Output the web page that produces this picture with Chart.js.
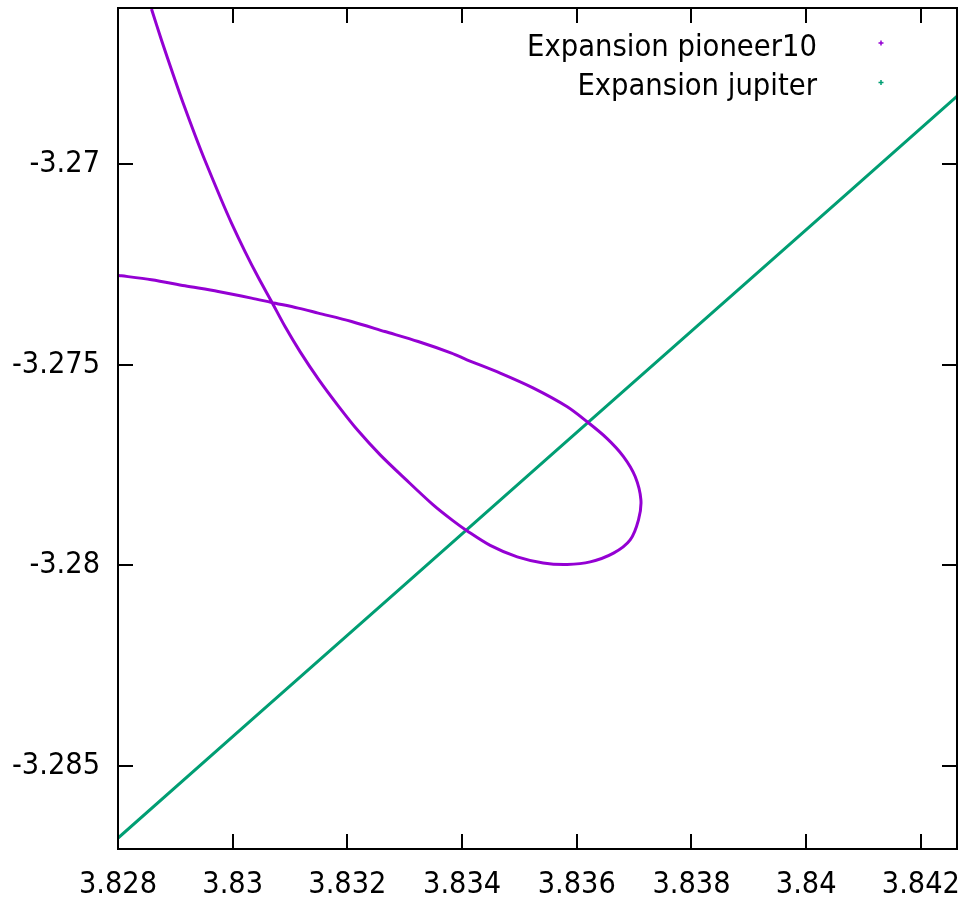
<!DOCTYPE html>
<html><head><meta charset="utf-8">
<script src="https://cdn.jsdelivr.net/npm/chart.js@4.4.1/dist/chart.umd.min.js"></script>
<style>html,body{margin:0;padding:0;background:#fff;} #wrap{width:971px;height:908px;}</style>
</head><body><div id="wrap"><canvas id="c" width="971" height="908"></canvas></div>
<script>
// ---- data ----
const seriesNames = ['Expansion pioneer10', 'Expansion jupiter'];
const seriesColors = ['#9400d3', '#009e73'];

const pioneerX = [3.828584, 3.828759, 3.828963, 3.829137, 3.829341, 3.829515, 3.829805, 3.829979,
  3.830213, 3.830445, 3.830677, 3.830915, 3.831177, 3.831491, 3.831840, 3.832188, 3.832572, 3.833008,
  3.833496, 3.833845, 3.834089, 3.834490, 3.834961, 3.835414, 3.835833, 3.836234, 3.836640, 3.836931,
  3.837076, 3.837118, 3.837018, 3.836814, 3.836525, 3.836176, 3.835827, 3.835245, 3.834664, 3.834084,
  3.833815, 3.833234, 3.832654, 3.832072, 3.831491, 3.831142, 3.830677, 3.830328, 3.829747, 3.829167,
  3.828584, 3.828061, 3.827986];
const pioneerY = [-3.266135, -3.266913, -3.267773, -3.268484, -3.269269, -3.269905, -3.270903, -3.271471,
  -3.272175, -3.272823, -3.273426, -3.274057, -3.274681, -3.275354, -3.276027, -3.276651, -3.277249, -3.277848,
  -3.278496, -3.278895, -3.279145, -3.279506, -3.279793, -3.279943, -3.279980, -3.279918, -3.279700, -3.279369,
  -3.278870, -3.278372, -3.277790, -3.277292, -3.276838, -3.276419, -3.276045, -3.275586, -3.275212, -3.274880,
  -3.274713, -3.274424, -3.274175, -3.273925, -3.273716, -3.273591, -3.273451, -3.273342, -3.273177, -3.273035,
  -3.272885, -3.272786, -3.272776];

const jupiterX = [3.828000, 3.830305, 3.832921, 3.835536, 3.838152, 3.840767, 3.842628];
const jupiterY = [-3.286803, -3.283890, -3.280584, -3.277277, -3.273970, -3.270666, -3.268314];

const xTicks = [3.828, 3.830, 3.832, 3.834, 3.836, 3.838, 3.840, 3.842];
const xTickLabels = ['3.828', '3.83', '3.832', '3.834', '3.836', '3.838', '3.84', '3.842'];
const yTicks = [-3.285, -3.280, -3.275, -3.270];
const yTickLabels = ['-3.285', '-3.28', '-3.275', '-3.27'];
const xRange = [3.828, 3.84263];
const yRange = [-3.287075, -3.26611];

// ---- font selection ----
const mctx = document.createElement('canvas').getContext('2d');
function hasFont(name) {
  mctx.font = "40px '" + name + "', monospace";
  const a = mctx.measureText('Expansion pioneer10').width;
  mctx.font = '40px monospace';
  const b = mctx.measureText('Expansion pioneer10').width;
  return Math.abs(a - b) > 0.5;
}
const FAMILY = hasFont('DejaVu Sans Condensed') ? "'DejaVu Sans Condensed'" : "'DejaVu Sans'";
function sizeFor(text, target) {
  mctx.font = '40px ' + FAMILY;
  return 40 * target / mctx.measureText(text).width;
}
const legendSize = sizeFor('Expansion pioneer10', 290);
const tickSize = sizeFor('-3.275', 88);

const toPts = (xs, ys) => xs.map((x, i) => ({ x: x, y: ys[i] }));

const framePlugin = {
  id: 'frame',
  afterDatasetsDraw(chart) {
    const { ctx, chartArea: a, scales } = chart;
    ctx.save();
    ctx.strokeStyle = '#000';
    ctx.lineWidth = 2;
    const L = 15;
    ctx.beginPath();
    xTicks.forEach(v => {
      const px = Math.round(scales.x.getPixelForValue(v));
      ctx.moveTo(px, a.bottom); ctx.lineTo(px, a.bottom - L);
      ctx.moveTo(px, a.top); ctx.lineTo(px, a.top + L);
    });
    yTicks.forEach(v => {
      const py = Math.round(scales.y.getPixelForValue(v));
      ctx.moveTo(a.left, py); ctx.lineTo(a.left + L, py);
      ctx.moveTo(a.right, py); ctx.lineTo(a.right - L, py);
    });
    ctx.stroke();
    ctx.strokeRect(a.left, a.top, a.right - a.left, a.bottom - a.top);
    // legend
    ctx.font = legendSize.toFixed(2) + 'px ' + FAMILY;
    ctx.fillStyle = '#000';
    ctx.textAlign = 'right';
    ctx.textBaseline = 'alphabetic';
    seriesNames.forEach((name, i) => {
      const ty = a.top + 47.5 + i * 39.4;
      ctx.fillText(name, a.right - 140, ty);
      const mx = a.right - 76, my = a.top + 35 + i * 39.4;
      ctx.strokeStyle = seriesColors[i];
      ctx.lineWidth = 1.5;
      ctx.beginPath();
      ctx.moveTo(mx - 2.5, my); ctx.lineTo(mx + 2.5, my);
      ctx.moveTo(mx, my - 2.5); ctx.lineTo(mx, my + 2.5);
      ctx.stroke();
    });
    ctx.restore();
  }
};

const tickFont = { family: FAMILY, size: tickSize };

new Chart(document.getElementById('c'), {
  type: 'scatter',
  data: {
    datasets: [
      { label: seriesNames[0], data: toPts(pioneerX, pioneerY), showLine: true, borderColor: seriesColors[0],
        backgroundColor: seriesColors[0], borderWidth: 3, pointRadius: 0, tension: 0.3 },
      { label: seriesNames[1], data: toPts(jupiterX, jupiterY), showLine: true, borderColor: seriesColors[1],
        backgroundColor: seriesColors[1], borderWidth: 3, pointRadius: 0, tension: 0 }
    ]
  },
  options: {
    responsive: false,
    animation: false,
    devicePixelRatio: 1,
    layout: { padding: { top: 8, right: 14, left: 0, bottom: 0 } },
    plugins: { legend: { display: false }, tooltip: { enabled: false } },
    scales: {
      x: {
        type: 'linear', position: 'bottom', min: xRange[0], max: xRange[1],
        grid: { display: false, drawTicks: false }, border: { display: false },
        afterBuildTicks: s => { s.ticks = xTicks.map(v => ({ value: v })); },
        afterFit: s => { s.height = 59; s.paddingLeft = 0; s.paddingRight = 0; },
        ticks: { font: tickFont, color: '#000', padding: 18, maxRotation: 0, autoSkip: false,
          callback: (v, i) => xTickLabels[i] }
      },
      y: {
        type: 'linear', position: 'left', min: yRange[0], max: yRange[1],
        grid: { display: false, drawTicks: false }, border: { display: false },
        afterBuildTicks: s => { s.ticks = yTicks.map(v => ({ value: v })); },
        afterFit: s => { s.width = 118; s.paddingTop = 0; s.paddingBottom = 0; },
        ticks: { font: tickFont, color: '#000', padding: 18, autoSkip: false,
          callback: (v, i) => yTickLabels[i] }
      }
    }
  },
  plugins: [framePlugin]
});
</script>
</body></html>
